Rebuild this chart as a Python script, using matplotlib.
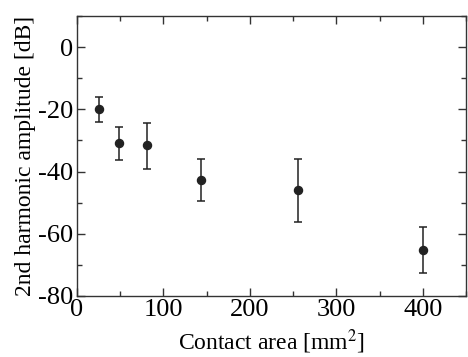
import matplotlib
matplotlib.use("Agg")
import matplotlib.pyplot as plt
from matplotlib.ticker import MultipleLocator

# contact area [mm^2] and 2nd harmonic amplitude [dB]
area = [25, 49, 81, 144, 256, 400]
amp = [-20.0, -30.8, -31.6, -42.7, -46.0, -65.2]
err_hi = [3.9, 5.1, 7.2, 6.7, 9.9, 7.4]
err_lo = [4.1, 5.4, 7.5, 6.8, 10.2, 7.5]

plt.rcParams["font.family"] = ["Liberation Serif", "DejaVu Serif"]
plt.rcParams["mathtext.fontset"] = "stix"
plt.rcParams["axes.unicode_minus"] = False

fig = plt.figure(figsize=(4.68, 3.57), dpi=100)
ax = fig.add_axes([77 / 468, 1 - 296 / 357, (466 - 77) / 468, (296 - 16) / 357])

ax.errorbar(area, amp, yerr=[err_lo, err_hi], fmt="o", color="#222222",
            ms=5.8, capsize=3.2, elinewidth=1.1, capthick=1.1)

ax.set_xlim(0, 450)
ax.set_ylim(-80, 10)
ax.xaxis.set_major_locator(MultipleLocator(100))
ax.xaxis.set_minor_locator(MultipleLocator(50))
ax.yaxis.set_major_locator(MultipleLocator(20))
ax.yaxis.set_minor_locator(MultipleLocator(10))
ax.tick_params(which="both", direction="in", top=True, right=True,
               labelsize=19, color="#333333")
ax.tick_params(which="major", length=6, width=1)
ax.tick_params(which="minor", length=3.5, width=1)
ax.tick_params(axis="x", pad=2)
ax.tick_params(axis="y", pad=3)
for s in ax.spines.values():
    s.set_linewidth(1)
    s.set_color("#333333")

ax.set_xlabel("Contact area [mm$^2$]", fontsize=17, labelpad=5)
ax.set_ylabel("2nd harmonic amplitude [dB]", fontsize=17, labelpad=1)

fig.savefig("out.png", dpi=100)
